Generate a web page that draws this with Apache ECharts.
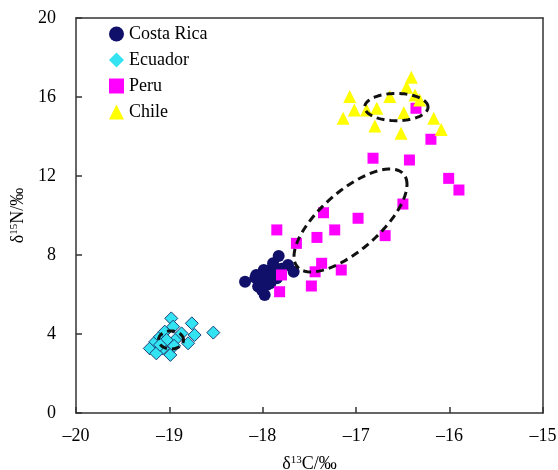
<!DOCTYPE html>
<html>
<head>
<meta charset="utf-8">
<script src="https://cdn.jsdelivr.net/npm/echarts@6/dist/echarts.min.js"></script>
<style>
html,body{margin:0;padding:0;background:#fff;}
#main{width:558px;height:470px;}
</style>
</head>
<body>
<div id="main"></div>
<script>
// δ13C / δ15N pairs per country
var costaRica=[[-18.19,6.65],[-17.83,7.95],[-18.07,6.99],[-18.01,6.73],[-17.98,5.97],[-17.92,7.24],[-17.89,7.58],[-17.73,7.49],[-17.67,7.15],[-17.96,6.48],[-18.05,6.40],[-17.85,6.82],[-17.99,7.24],[-17.92,6.57],[-18.01,6.23],[-18.08,6.85],[-17.95,6.95],[-17.88,7.05],[-17.80,7.30]];
var ecuador=[[-19.21,3.27],[-19.15,3.61],[-19.10,3.86],[-19.05,4.12],[-18.98,4.79],[-18.96,4.37],[-19.07,3.27],[-18.99,2.94],[-18.92,3.78],[-18.87,4.03],[-18.76,4.54],[-18.80,3.53],[-18.73,3.95],[-18.53,4.07],[-19.14,3.02],[-19.03,3.70],[-18.95,3.40],[-19.10,3.45]];
var peru=[[-17.85,9.27],[-17.64,8.59],[-17.42,8.89],[-17.35,10.14],[-17.23,9.27],[-16.98,9.86],[-16.82,12.9],[-17.80,6.99],[-17.82,6.14],[-17.48,6.43],[-17.44,7.15],[-17.37,7.58],[-17.16,7.24],[-16.50,10.58],[-16.69,8.98],[-16.43,12.81],[-16.20,13.86],[-16.01,11.88],[-15.90,11.29],[-16.36,15.43]];
var chile=[[-16.41,17.0],[-16.46,16.49],[-17.07,16.02],[-17.02,15.34],[-17.14,14.92],[-16.80,14.53],[-16.52,14.16],[-16.17,14.92],[-16.09,14.36],[-16.49,15.2],[-16.78,15.43],[-16.64,16.02],[-16.37,16.1],[-16.89,15.34],[-16.32,15.85]];
// ellipses: centre x, centre y, half-axis vectors (ax,ay) and (bx,by) in data units
var ellipses=[[-16.57,15.49,0.339,0,0,0.69],[-17.061,9.747,0.605,1.823,0,1.863],[-18.983,3.70,0.134,0,0,0.456]];
var xTicks={min:-20,max:-15,step:1};
var yTicks={min:0,max:20,step:4};

var serif="'Liberation Serif','Times New Roman',serif";
function dash(v){
	return String(v).replace("-","\u2013");
}
var nameRich={
	d:{fontFamily:serif,fontSize:18,color:"#000"},
	s:{fontFamily:serif,fontSize:11,color:"#000",verticalAlign:"top",padding:[0,0,6,0]}
};
var frameLine={onZero:false,lineStyle:{color:"#333",width:1.5}};
var chart=echarts.init(document.getElementById("main"));
chart.setOption({
	animation:false,
	backgroundColor:"#fff",
	grid:{left:76,right:15,top:18,bottom:57,outerBoundsMode:"none",containLabel:false},
	legend:{
		orient:"vertical",left:104,top:20,itemGap:8,itemWidth:15,itemHeight:15,
		textStyle:{fontFamily:serif,fontSize:18,color:"#000"},
		data:[
			{name:"Costa Rica",icon:"circle"},
			{name:"Ecuador",icon:"diamond",itemStyle:{borderWidth:0}},
			{name:"Peru",icon:"rect"},
			{name:"Chile",icon:"triangle"}
		]
	},
	xAxis:[{
		type:"value",min:xTicks.min,max:xTicks.max,interval:xTicks.step,
		name:"{d|δ}{s|13}{d|C/‰}",nameLocation:"middle",nameGap:42,
		nameTextStyle:{rich:nameRich},
		axisLine:frameLine,
		axisTick:{inside:true,length:6,lineStyle:{color:"#333",width:1.5}},
		axisLabel:{fontFamily:serif,fontSize:18,color:"#000",margin:14,formatter:dash},
		splitLine:{show:false}
	},{
		type:"value",position:"top",min:xTicks.min,max:xTicks.max,interval:xTicks.step,
		axisLine:frameLine,axisTick:{show:false},axisLabel:{show:false},splitLine:{show:false}
	}],
	yAxis:[{
		type:"value",min:yTicks.min,max:yTicks.max,interval:yTicks.step,
		name:"{d|δ}{s|15}{d|N/‰}",nameLocation:"middle",nameGap:48,
		nameTextStyle:{rich:nameRich},
		axisLine:frameLine,
		axisTick:{inside:true,length:6,lineStyle:{color:"#333",width:1.5}},
		axisLabel:{fontFamily:serif,fontSize:18,color:"#000",margin:20},
		splitLine:{show:false}
	},{
		type:"value",position:"right",min:yTicks.min,max:yTicks.max,interval:yTicks.step,
		axisLine:frameLine,axisTick:{show:false},axisLabel:{show:false},splitLine:{show:false}
	}],
	series:[
		{name:"Costa Rica",type:"scatter",symbol:"circle",symbolSize:12,data:costaRica,itemStyle:{color:"#10106a",opacity:1}},
		{name:"Ecuador",type:"scatter",symbol:"diamond",symbolSize:13,data:ecuador,itemStyle:{color:"#33e3f2",borderColor:"#1d3f7a",borderWidth:1,opacity:1}},
		{name:"Peru",type:"scatter",symbol:"rect",symbolSize:11,data:peru,itemStyle:{color:"#ff00ff",opacity:1}},
		{name:"Chile",type:"scatter",symbol:"triangle",symbolSize:13,data:chile,itemStyle:{color:"#ffff00",opacity:1}},
		{
			type:"custom",silent:true,z:10,data:ellipses,
			encode:{x:0,y:1},
			renderItem:function(params,api){
				var cx=api.value(0),cy=api.value(1),ax=api.value(2),ay=api.value(3),bx=api.value(4),by=api.value(5);
				var pts=[];
				for(var i=0;i<=90;i++){
					var t=Math.PI*2*i/90;
					pts.push(api.coord([cx+ax*Math.cos(t)+bx*Math.sin(t),cy+ay*Math.cos(t)+by*Math.sin(t)]));
				}
				return {type:"polygon",shape:{points:pts},style:{fill:"none",stroke:"#111",lineWidth:3,lineDash:[8,5]}};
			}
		}
	]
});
</script>
</body>
</html>
